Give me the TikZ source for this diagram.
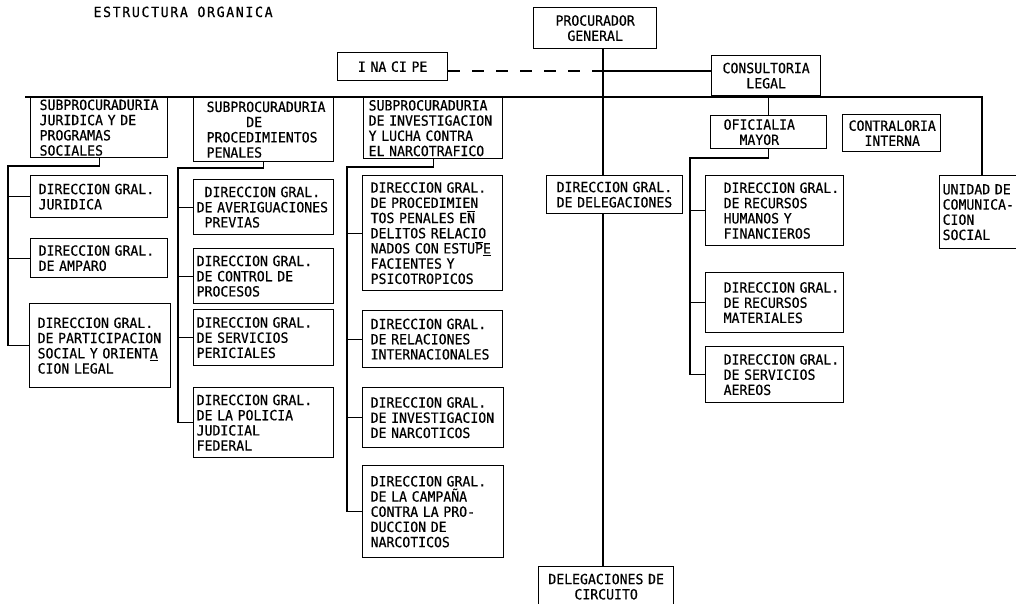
\documentclass[tikz,border=0pt]{standalone}
\usepackage{fontspec}
\newfontfamily\mono{DejaVu Sans Mono}[FakeStretch=0.94,FakeBold=0.5]
\newfontfamily\monotitle{DejaVu Sans Mono}[LetterSpace=12,FakeStretch=0.94,FakeBold=0.5]
\begin{document}
\begin{tikzpicture}[x=1pt,y=-1pt,
  txt/.style={font={\mono\fontsize{14}{15.2}\selectfont}},
  bx/.style n args={3}{draw, line width=1.3pt, txt, inner sep=0pt, anchor=north west, align=left, text width=#1, minimum height=#2, execute at begin node={\leftskip=#3\relax}},
  cbx/.style n args={2}{draw, line width=1.3pt, txt, inner sep=0pt, anchor=north west, align=center, text width=#1, minimum height=#2},
  con/.style={line width=1.2pt},
  dashcon/.style={line width=1.2pt, dash pattern=on 12pt off 12pt}]
\useasboundingbox (0,0) rectangle (1016,603);
\clip (0,0) rectangle (1016,603);

\node[anchor=base west, font={\monotitle\fontsize{14}{15}\selectfont}] (title) at (90,17) {ESTRUCTURA~ORGANICA};

% top level
\node[cbx={123pt}{41pt}] (pg) at (533,7) {PROCURADOR\\GENERAL};
\node[cbx={110pt}{28pt}] (ina) at (337,52) {I~NA~CI~PE};
\node[cbx={109pt}{40pt}] (cons) at (711,55) {CONSULTORIA\\LEGAL};

% subprocuradurias
\node[bx={137pt}{60pt}{9pt}] (s1) at (30,97) {SUBPROCURADURIA\\JURIDICA~Y~DE\\PROGRAMAS\\SOCIALES};
\node[bx={140pt}{64pt}{13pt}] (s2) at (193,97) {SUBPROCURADURIA\\\phantom{XXXXX}DE\\PROCEDIMIENTOS\\PENALES};
\node[bx={139pt}{61pt}{5pt}] (s3) at (363,97) {SUBPROCURADURIA\\DE~INVESTIGACION\\Y~LUCHA~CONTRA\\EL~NARCOTRAFICO};

% column 1
\node[bx={137pt}{42pt}{8pt}] (d11) at (30,175) {DIRECCION~GRAL.\\JURIDICA};
\node[bx={137pt}{39pt}{8pt}] (d12) at (30,238) {DIRECCION~GRAL.\\DE~AMPARO};
\node[bx={141pt}{84pt}{8pt}] (d13) at (29,303) {DIRECCION~GRAL.\\DE~PARTICIPACION\\SOCIAL~Y~ORIENT\underline{A}\\CION~LEGAL};

% column 2
\node[bx={140pt}{55pt}{3pt}] (d21) at (193,179) {\phantom{X}DIRECCION~GRAL.\\DE~AVERIGUACIONES\\\phantom{X}PREVIAS};
\node[bx={140pt}{55pt}{3pt}] (d22) at (193,248) {DIRECCION~GRAL.\\DE~CONTROL~DE\\PROCESOS};
\node[bx={140pt}{56pt}{3pt}] (d23) at (193,309) {DIRECCION~GRAL.\\DE~SERVICIOS\\PERICIALES};
\node[bx={140pt}{70pt}{3pt}] (d24) at (193,387) {DIRECCION~GRAL.\\DE~LA~POLICIA\\JUDICIAL\\FEDERAL};

% column 3
\node[bx={140pt}{115pt}{8pt}] (d31) at (362,175) {DIRECCION~GRAL.\\DE~PROCEDIMIEN\\TOS~PENALES~E$\overline{\hbox{N}}$\\DELITOS~RELACIO\\NADOS~CON~ESTU$\overline{\hbox{P}}$\underline{E}\\FACIENTES~Y\\PSICOTROPICOS};
\node[bx={140pt}{57pt}{8pt}] (d32) at (362,310) {DIRECCION~GRAL.\\DE~RELACIONES\\INTERNACIONALES};
\node[bx={141pt}{60pt}{8pt}] (d33) at (362,387) {DIRECCION~GRAL.\\DE~INVESTIGACION\\DE~NARCOTICOS};
\node[bx={141pt}{92pt}{8pt}] (d34) at (362,465) {DIRECCION~GRAL.\\DE~LA~CAMPAÑA\\CONTRA~LA~PRO-\\DUCCION~DE\\NARCOTICOS};

% delegaciones
\node[bx={136pt}{38pt}{10pt}] (del) at (546,175) {DIRECCION~GRAL.\\DE~DELEGACIONES};
\node[cbx={135pt}{40pt}] (dc) at (538,566) {DELEGACIONES~DE\\CIRCUITO};

% oficialia mayor
\node[bx={116pt}{33pt}{13pt}] (of) at (710,115) {OFICIALIA\\\phantom{XX}MAYOR};
\node[bx={98pt}{37pt}{6pt}] (cont) at (842,114) {CONTRALORIA\\\phantom{XX}INTERNA};
\node[bx={138pt}{70pt}{18pt}] (r1) at (705,175) {DIRECCION~GRAL.\\DE~RECURSOS\\HUMANOS~Y\\FINANCIEROS};
\node[bx={138pt}{60pt}{18pt}] (r2) at (705,272) {DIRECCION~GRAL.\\DE~RECURSOS\\MATERIALES};
\node[bx={138pt}{56pt}{18pt}] (r3) at (705,346) {DIRECCION~GRAL.\\DE~SERVICIOS\\AEREOS};
\node[bx={100pt}{73pt}{3pt}] (uni) at (939,175) {UNIDAD~DE\\COMUNICA-\\CION\\SOCIAL};

% connectors
\coordinate (mL) at (25,97);
\coordinate (mR) at (982,97);
\coordinate (t) at (603,0);
\coordinate (j) at (603,71);
\draw[con] (mL) -- (mR) -- (mR |- uni.north);
\draw[con] (t |- pg.south) -- (t |- del.north);
\draw[con] (t |- del.south) -- (t |- dc.north);
\draw[dashcon] (ina.east |- j) -- (j);
\draw[con] (j) -- (cons.west |- j);
\draw[con] (of.north |- mL) -- (of.north);

\coordinate (c1) at (8,166);
\draw[con] (s1.south) |- (c1) -- (c1 |- d13.west) -- (d13.west);
\draw[con] (c1 |- d11.west) -- (d11.west);
\draw[con] (c1 |- d12.west) -- (d12.west);

\coordinate (c2) at (178,168);
\draw[con] (s2.south) |- (c2) -- (c2 |- d24.west) -- (d24.west);
\draw[con] (c2 |- d21.west) -- (d21.west);
\draw[con] (c2 |- d22.west) -- (d22.west);
\draw[con] (c2 |- d23.west) -- (d23.west);

\coordinate (c3) at (347,167);
\draw[con] (s3.south) |- (c3) -- (c3 |- d34.west) -- (d34.west);
\draw[con] (c3 |- d31.west) -- (d31.west);
\draw[con] (c3 |- d32.west) -- (d32.west);
\draw[con] (c3 |- d33.west) -- (d33.west);

\coordinate (c4) at (690,158);
\draw[con] (of.south) |- (c4) -- (c4 |- r3.west) -- (r3.west);
\draw[con] (c4 |- r1.west) -- (r1.west);
\draw[con] (c4 |- r2.west) -- (r2.west);
\end{tikzpicture}
\end{document}
